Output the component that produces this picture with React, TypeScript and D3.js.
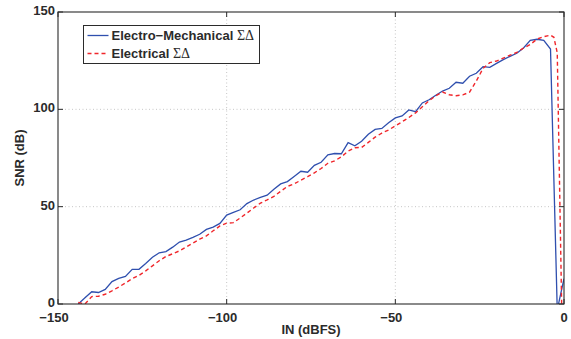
import React, { useEffect, useRef } from 'react';
import * as d3 from 'd3';

// [IN (dBFS), SNR (dB)]
const electroMechanical: [number, number][] = [
  [-144, 0], [-142, 3.2], [-140, 6.3], [-138, 5.9], [-136, 7.5], [-134, 11.5], [-132, 13.2], [-130, 14.2],
  [-128, 17.8], [-126, 17.8], [-124, 20.8], [-122, 24], [-120, 26.3], [-118, 26.9], [-116, 29.2], [-114, 31.8],
  [-112, 32.8], [-110, 34.2], [-108, 35.8], [-106, 38.3], [-104, 39.5], [-102, 41.4], [-100, 45.7], [-98, 47.1],
  [-96, 48.4], [-94, 51.6], [-92, 53.4], [-90, 54.8], [-88, 55.9], [-86, 59], [-84, 61.7], [-82, 62.9],
  [-80, 65.5], [-78, 68.2], [-76, 67.7], [-74, 71.2], [-72, 72.8], [-70, 76.6], [-68, 77.3], [-66, 77.2],
  [-64, 82.9], [-62, 81.3], [-60, 83.6], [-58, 87.2], [-56, 89.7], [-54, 90.2], [-52, 93.1], [-50, 95.6],
  [-48, 96.6], [-46, 99.7], [-44, 98.8], [-42, 103.3], [-40, 104.9], [-38, 107.2], [-36, 109.4], [-34, 110.8],
  [-32, 113.9], [-30, 113.4], [-28, 117], [-26, 118.5], [-24, 121.9], [-22, 121.6], [-20, 123.6], [-18, 125.5],
  [-16, 127.2], [-14, 128.8], [-12, 131.5], [-10, 135.4], [-8, 136], [-6, 135.4], [-4, 131], [-2, -3], [0, 13],
];

const electrical: [number, number][] = [
  [-144, 0.8], [-142, 0], [-140, 3.8], [-138, 4], [-136, 5], [-134, 6.8], [-132, 8.7], [-130, 10.8],
  [-128, 13], [-126, 14.7], [-124, 17], [-122, 19.6], [-120, 22.2], [-118, 24.4], [-116, 25.8], [-114, 27.3],
  [-112, 29.3], [-110, 31.3], [-108, 33.3], [-106, 35], [-104, 37.6], [-102, 40.1], [-100, 41.5], [-98, 41.8],
  [-96, 44.2], [-94, 46.7], [-92, 49.3], [-90, 51.8], [-88, 53.5], [-86, 55.3], [-84, 57.9], [-82, 60.4],
  [-80, 61.7], [-78, 63.6], [-76, 65.4], [-74, 67.4], [-72, 69.6], [-70, 72.3], [-68, 73.5], [-66, 75.6],
  [-64, 78.5], [-62, 80.3], [-60, 80.4], [-58, 83], [-56, 85.7], [-54, 87.8], [-52, 89.4], [-50, 91.5],
  [-48, 93.6], [-46, 95.8], [-44, 98.2], [-42, 101.3], [-40, 104.4], [-38, 107], [-36, 108.9], [-34, 107.5],
  [-32, 107], [-30, 107.4], [-28, 108.8], [-26, 114.5], [-24, 121], [-22, 124], [-20, 124.8], [-18, 126.3],
  [-16, 127.8], [-14, 129.2], [-12, 131.5], [-10, 133.3], [-8, 136.1], [-6, 137.3], [-4, 138.1], [-3, 137],
  [-2, 129], [-0.7, 0],
];

const xTicks = [-150, -100, -50, 0];
const yTicks = [0, 50, 100, 150];
const legendLabels = ['Electro\u2212Mechanical ', 'Electrical '];

const W = 571;
const H = 339;
const FONT = '"Liberation Sans", Arial, Helvetica, sans-serif';

const App = () => {
  const ref = useRef<SVGSVGElement | null>(null);

  useEffect(() => {
    document.body.style.margin = '0';
    const svg = d3.select(ref.current);
    svg.selectAll('*').remove();

    const margin = { top: 12, right: 7, bottom: 35, left: 58 };
    const x = d3.scaleLinear().domain([-150, 0]).range([margin.left, W - margin.right]);
    const y = d3.scaleLinear().domain([0, 150]).range([H - margin.bottom, margin.top]);
    const [x0, x1] = x.range();
    const [y0, y1] = y.range();

    svg.append('rect').attr('width', W).attr('height', H).attr('fill', '#fff');

    svg.append('defs').append('clipPath').attr('id', 'plot-clip')
      .append('rect').attr('x', x0).attr('y', y1).attr('width', x1 - x0).attr('height', y0 - y1);

    // grid
    const grid = svg.append('g').attr('stroke', '#b8b8b8').attr('stroke-width', 0.8).attr('stroke-dasharray', '1,2.5');
    xTicks.slice(1, -1).forEach((t) => {
      grid.append('line').attr('x1', x(t)).attr('x2', x(t)).attr('y1', y0).attr('y2', y1);
    });
    yTicks.slice(1, -1).forEach((t) => {
      grid.append('line').attr('x1', x0).attr('x2', x1).attr('y1', y(t)).attr('y2', y(t));
    });

    // lines
    const line = d3.line<[number, number]>().x((d) => x(d[0])).y((d) => y(d[1]));
    const plot = svg.append('g').attr('clip-path', 'url(#plot-clip)');
    plot.append('path').datum(electroMechanical).attr('d', line)
      .attr('fill', 'none').attr('stroke', '#2f4fae').attr('stroke-width', 1.3);
    plot.append('path').datum(electrical).attr('d', line)
      .attr('fill', 'none').attr('stroke', '#f0262b').attr('stroke-width', 1.4).attr('stroke-dasharray', '4,3');

    // box + ticks (inward, mirrored)
    const axisColor = '#2b2b2b';
    svg.append('rect').attr('x', x0).attr('y', y1).attr('width', x1 - x0).attr('height', y0 - y1)
      .attr('fill', 'none').attr('stroke', axisColor).attr('stroke-width', 1.1);
    const ticks = svg.append('g').attr('stroke', axisColor).attr('stroke-width', 1);
    xTicks.forEach((t) => {
      ticks.append('line').attr('x1', x(t)).attr('x2', x(t)).attr('y1', y0).attr('y2', y0 - 5);
      ticks.append('line').attr('x1', x(t)).attr('x2', x(t)).attr('y1', y1).attr('y2', y1 + 5);
    });
    yTicks.forEach((t) => {
      ticks.append('line').attr('x1', x0).attr('x2', x0 + 5).attr('y1', y(t)).attr('y2', y(t));
      ticks.append('line').attr('x1', x1).attr('x2', x1 - 5).attr('y1', y(t)).attr('y2', y(t));
    });

    // tick labels
    const fmt = (d: number) => (d < 0 ? '\u2212' + Math.abs(d) : String(d));
    svg.append('g').selectAll('text').data(xTicks).enter().append('text')
      .attr('x', (d) => x(d) + (d < 0 ? -4 : 0)).attr('y', y0 + 18)
      .attr('text-anchor', 'middle').attr('font-family', FONT).attr('font-weight', 'bold')
      .attr('font-size', 13).attr('fill', axisColor).text(fmt);
    svg.append('g').selectAll('text').data(yTicks).enter().append('text')
      .attr('x', x0 - 3).attr('y', (d) => y(d) + 3)
      .attr('text-anchor', 'end').attr('font-family', FONT).attr('font-weight', 'bold')
      .attr('font-size', 13).attr('fill', axisColor).text(fmt);

    // axis titles
    svg.append('text').attr('x', (x0 + x1) / 2).attr('y', 334).attr('text-anchor', 'middle')
      .attr('font-family', FONT).attr('font-weight', 'bold').attr('font-size', 13).attr('fill', axisColor)
      .text('IN (dBFS)');
    svg.append('text').attr('transform', `translate(24,${(y0 + y1) / 2}) rotate(-90)`).attr('text-anchor', 'middle')
      .attr('font-family', FONT).attr('font-weight', 'bold').attr('font-size', 13).attr('fill', axisColor)
      .text('SNR (dB)');

    // legend
    const lg = svg.append('g').attr('transform', 'translate(83.5,25.5)');
    lg.append('rect').attr('width', 176).attr('height', 38).attr('fill', '#fff')
      .attr('stroke', axisColor).attr('stroke-width', 1);
    const styles = [
      { stroke: '#2f4fae', dash: null, width: 1.3 },
      { stroke: '#f0262b', dash: '4,3', width: 1.4 },
    ];
    legendLabels.forEach((label, i) => {
      const ly = 10 + i * 18;
      lg.append('line').attr('x1', 4).attr('x2', 25).attr('y1', ly).attr('y2', ly)
        .attr('stroke', styles[i].stroke).attr('stroke-width', styles[i].width)
        .attr('stroke-dasharray', styles[i].dash);
      const t = lg.append('text').attr('x', 28).attr('y', ly + 4.5)
        .attr('font-family', FONT).attr('font-weight', 'bold').attr('font-size', 13).attr('fill', axisColor);
      t.append('tspan').text(label);
      t.append('tspan').attr('font-family', '"Liberation Serif", "Times New Roman", serif')
        .attr('font-weight', 'normal').attr('font-size', 14).text('\u03A3\u0394');
    });
  }, []);

  return <svg ref={ref} width={W} height={H} style={{ display: 'block' }} />;
};

export default App;
